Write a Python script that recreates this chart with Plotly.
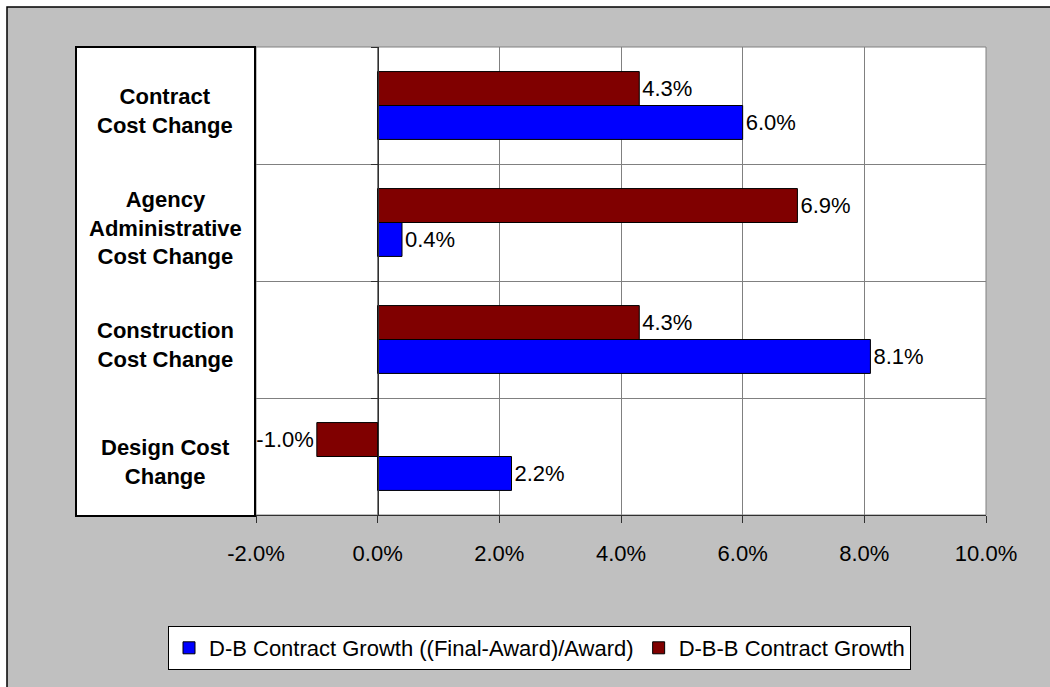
import plotly.graph_objects as go

# Cost-change categories, listed top to bottom as they appear on the chart
categories = [
    "Contract<br>Cost Change",
    "Agency<br>Administrative<br>Cost Change",
    "Construction<br>Cost Change",
    "Design Cost<br>Change",
]

# Growth in percent for each delivery method
db_growth = [6.0, 0.4, 8.1, 2.2]     # D-B
dbb_growth = [4.3, 6.9, 4.3, -1.0]   # D-B-B

series_names = ["D-B Contract Growth ((Final-Award)/Award)", "D-B-B Contract Growth"]
x_ticks = [-2, 0, 2, 4, 6, 8, 10]

FONT = "Liberation Sans, Arial, sans-serif"
W, H = 1050, 687
L, R, T, B = 256, 64, 47, 172
PW, PH = W - L - R, H - T - B


def px_x(p):
    return (p - L) / PW


def px_y(p):
    return (H - B - p) / PH


fig = go.Figure()
for name, vals, color in [
    (series_names[0], db_growth, "#0000FF"),
    (series_names[1], dbb_growth, "#800000"),
]:
    fig.add_trace(go.Bar(
        y=categories, x=vals, name=name, orientation="h",
        marker=dict(color=color, line=dict(color="black", width=1)),
        texttemplate="%{x:.1f}%", textposition="outside",
        textfont=dict(family=FONT, size=22, color="black"),
        constraintext="none", cliponaxis=False,
    ))

shapes = [
    # outer chart frame
    dict(type="rect", xref="paper", yref="paper",
         x0=px_x(7), x1=px_x(W + 80), y0=px_y(H + 80), y1=px_y(7),
         fillcolor="#C0C0C0", line=dict(color="black", width=1.5), layer="below"),
    # plot area with its grey border
    dict(type="rect", xref="paper", yref="paper", x0=0, x1=1, y0=0, y1=1,
         fillcolor="white", line=dict(color="#808080", width=1), layer="below"),
    # category label panel
    dict(type="rect", xref="paper", yref="paper",
         x0=px_x(76), x1=px_x(255), y0=px_y(516), y1=px_y(47),
         fillcolor="white", line=dict(color="black", width=2), layer="above"),
]

annotations = [
    dict(text=f"<b>{c}</b>", x=px_x(165), xref="paper", xanchor="center",
         y=c, yref="y", yanchor="middle",
         showarrow=False, align="center", yshift=-5,
         font=dict(family=FONT, size=22, color="black"))
    for c in categories
]

fig.update_layout(
    width=W, height=H,
    margin=dict(l=L, r=R, t=T, b=B, pad=0),
    paper_bgcolor="white", plot_bgcolor="white",
    barmode="group", bargap=0.42, bargroupgap=0,
    font=dict(family=FONT, size=22, color="black"),
    shapes=shapes, annotations=annotations,
    xaxis=dict(
        range=[-2, 10], tickvals=x_ticks,
        ticktext=[f"{v:.1f}%" for v in x_ticks],
        showgrid=True, gridcolor="#808080", gridwidth=1,
        zeroline=False, showline=True, linecolor="#303030", linewidth=1,
        ticks="outside", ticklen=7, tickcolor="#303030",
        ticklabelstandoff=12,
        tickfont=dict(family=FONT, size=22, color="black"),
    ),
    yaxis=dict(
        categoryorder="array", categoryarray=categories[::-1],
        range=[-0.5, 3.5], anchor="free", position=1 / 6,
        showticklabels=False, tickson="boundaries",
        showgrid=True, gridcolor="#808080", gridwidth=1,
        showline=True, linecolor="#303030", linewidth=1,
        ticks="outside", ticklen=7, tickcolor="#303030",
    ),
    legend=dict(
        orientation="h",
        x=px_x(168), xanchor="left",
        y=px_y(626), yanchor="top",
        bgcolor="white", bordercolor="black", borderwidth=1,
        font=dict(family=FONT, size=22, color="black"),
        traceorder="normal", itemwidth=30,
    ),
    showlegend=True,
)

fig.write_html("out.html")
